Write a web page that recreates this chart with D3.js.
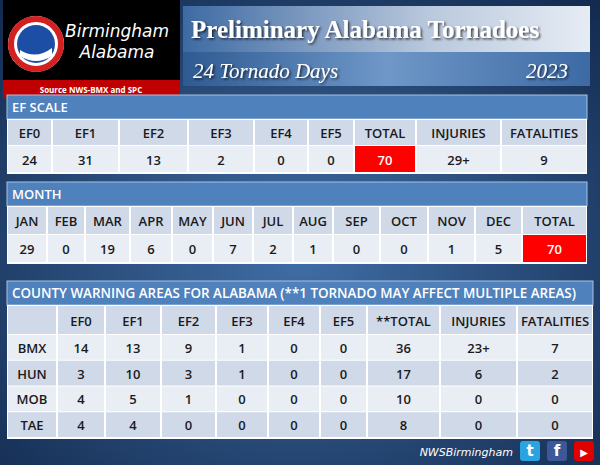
<!DOCTYPE html><html><head><meta charset="utf-8">
<script src="https://cdn.jsdelivr.net/npm/d3@7"></script>
<style>body{margin:0;background:#1c3a66}svg{display:block}</style></head><body>
<svg id="c" width="600" height="465"></svg>
<script>
const efCols=["EF0","EF1","EF2","EF3","EF4","EF5","TOTAL","INJURIES","FATALITIES"];
const efVals=["24","31","13","2","0","0","70","29+","9"];
const efEdges=[7,52,119,188,254,308,354,416,501,587];
const months=["JAN","FEB","MAR","APR","MAY","JUN","JUL","AUG","SEP","OCT","NOV","DEC","TOTAL"];
const monthVals=["29","0","19","6","0","7","2","1","0","0","1","5","70"];
const monthEdges=[7,47,85,130,172,213,253,293,333,380,428,475,522,587];
const cwaCols=["","EF0","EF1","EF2","EF3","EF4","EF5","**TOTAL","INJURIES","FATALITIES"];
const cwaRows=["BMX","HUN","MOB","TAE"];
const cwaVals=[["14","13","9","1","0","0","36","23+","7"],["3","10","3","1","0","0","17","6","2"],["4","5","1","0","0","0","10","0","0"],["4","4","0","0","0","0","8","0","0"]];
const cwaEdges=[7,57,105,161,216,268,320,367,440,517,593];

const svg=d3.select("#c");
const defs=svg.append("defs");
const bg=defs.append("radialGradient").attr("id","bg").attr("cx","50%").attr("cy","55%").attr("r","75%");
bg.append("stop").attr("offset","0").attr("stop-color","#3f6ea6");
bg.append("stop").attr("offset","1").attr("stop-color","#12294d");
svg.append("rect").attr("width",600).attr("height",465).attr("fill","url(#bg)");
const g1=defs.append("linearGradient").attr("id","t1");
g1.append("stop").attr("offset","0").attr("stop-color","#3e6aa3");
g1.append("stop").attr("offset","0.6").attr("stop-color","#b9c8dc");
g1.append("stop").attr("offset","1").attr("stop-color","#e6ecf4");
const g2=defs.append("linearGradient").attr("id","t2");
g2.append("stop").attr("offset","0").attr("stop-color","#2e5a92");
g2.append("stop").attr("offset","0.5").attr("stop-color","#6f98c8");
g2.append("stop").attr("offset","1").attr("stop-color","#3d6aa4");
const f=defs.append("filter").attr("id","sh");
f.append("feDropShadow").attr("dx",1.5).attr("dy",1.5).attr("stdDeviation",0.8).attr("flood-color","#000").attr("flood-opacity",0.7);

// logo block
svg.append("rect").attr("x",3).attr("y",0).attr("width",177).attr("height",80).attr("fill","#000");
svg.append("rect").attr("x",3).attr("y",80).attr("width",177).attr("height",18).attr("fill","#c00000");
svg.append("text").attr("x",91).attr("y",93).attr("text-anchor","middle").attr("fill","#fff").attr("font-family","Open Sans").attr("font-weight","bold").attr("font-size",8).text("Source NWS-BMX and SPC");
svg.append("circle").attr("cx",36).attr("cy",44).attr("r",28).attr("fill","#fff");
svg.append("circle").attr("cx",36).attr("cy",44).attr("r",25).attr("fill","none").attr("stroke","#d32020").attr("stroke-width",6);
svg.append("circle").attr("cx",36).attr("cy",44).attr("r",19).attr("fill","#1d4ea6");
svg.append("path").attr("d","M20,50 Q36,60 52,48 L52,56 Q36,66 20,56Z").attr("fill","#fff");
svg.append("text").attr("x",117).attr("y",37).attr("text-anchor","middle").attr("fill","#fff").attr("font-family","DejaVu Sans").attr("font-style","italic").attr("font-size",17).text("Birmingham");
svg.append("text").attr("x",117).attr("y",58).attr("text-anchor","middle").attr("fill","#fff").attr("font-family","DejaVu Sans").attr("font-style","italic").attr("font-size",17).text("Alabama");

// title
svg.append("rect").attr("x",183).attr("y",6).attr("width",407).attr("height",46).attr("fill","url(#t1)");
svg.append("rect").attr("x",183).attr("y",52).attr("width",407).attr("height",34).attr("fill","url(#t2)");
svg.append("text").attr("x",191).attr("y",38).attr("fill","#fff").attr("filter","url(#sh)").attr("font-family","Liberation Serif").attr("font-weight","bold").attr("font-size",25).text("Preliminary  Alabama  Tornadoes");
svg.append("text").attr("x",193).attr("y",78).attr("fill","#fff").attr("filter","url(#sh)").attr("font-family","Liberation Serif").attr("font-style","italic").attr("font-size",21).text("24 Tornado Days");
svg.append("text").attr("x",568).attr("y",78).attr("text-anchor","end").attr("fill","#fff").attr("filter","url(#sh)").attr("font-family","Liberation Serif").attr("font-style","italic").attr("font-size",21).text("2023");

const FF="Open Sans";
function bar(y,h,x0,x1,label,fs){
  svg.append("rect").attr("x",x0).attr("y",y).attr("width",x1-x0).attr("height",h).attr("fill","#4f81bd").attr("stroke","#a9c1e0").attr("stroke-width",1);
  svg.append("text").attr("x",x0+5).attr("y",y+h/2+5).attr("fill","#fff").attr("font-family",FF).attr("font-weight",600).attr("font-size",fs).text(label);
}
function rowCells(edges,labels,y,h,fill,hilite){
  labels.forEach((t,i)=>{
    const x0=edges[i],x1=edges[i+1];
    const red=hilite===i;
    svg.append("rect").attr("x",x0+1).attr("y",y).attr("width",x1-x0-2).attr("height",h-1).attr("fill",red?"#ff0000":fill);
    svg.append("text").attr("x",(x0+x1)/2).attr("y",y+h/2+5).attr("text-anchor","middle").attr("fill",red?"#fff":"#1a1a1a").attr("font-family",FF).attr("font-weight",600).attr("font-size",13).text(t);
  });
}
// EF table
bar(95,24,7,587,"EF SCALE",13);
svg.append("rect").attr("x",7).attr("y",119).attr("width",580).attr("height",55).attr("fill","#fff");
rowCells(efEdges,efCols,120,26,"#d0d9e8",-1);
rowCells(efEdges,efVals,146,27,"#e9edf4",6);
// Month table
bar(182,24,7,587,"MONTH",13);
svg.append("rect").attr("x",7).attr("y",206).attr("width",580).attr("height",58).attr("fill","#fff");
rowCells(monthEdges,months,207,28,"#d0d9e8",-1);
rowCells(monthEdges,monthVals,235,28,"#e9edf4",12);
// County table
bar(281,24,7,593,"COUNTY WARNING AREAS FOR ALABAMA (**1 TORNADO MAY AFFECT MULTIPLE AREAS)",13.4);
svg.append("rect").attr("x",7).attr("y",305).attr("width",586).attr("height",134).attr("fill","#fff");
rowCells(cwaEdges,cwaCols,306,29,"#d0d9e8",-1);
const ry=d3.scaleBand().domain(cwaRows).range([335,438]);
cwaRows.forEach((r,i)=>rowCells(cwaEdges,[r].concat(cwaVals[i]),ry(r),ry.bandwidth(),i%2?"#d0d9e8":"#e9edf4",-1));

// footer
svg.append("text").attr("x",513).attr("y",456).attr("text-anchor","end").attr("fill","#fff").attr("font-family","DejaVu Sans").attr("font-style","italic").attr("font-size",11).text("NWSBirmingham");
[["#2aa3e0","t"],["#3b5998","f"],["#e00000","▶"]].forEach((d,i)=>{
  const x=520+i*27;
  svg.append("rect").attr("x",x).attr("y",441).attr("width",20).attr("height",20).attr("rx",3).attr("fill",d[0]);
  svg.append("text").attr("x",x+10).attr("y",456).attr("text-anchor","middle").attr("fill","#fff").attr("font-family","DejaVu Sans").attr("font-weight","bold").attr("font-size",d[1]==="▶"?10:15).text(d[1]);
});
</script></body></html>
